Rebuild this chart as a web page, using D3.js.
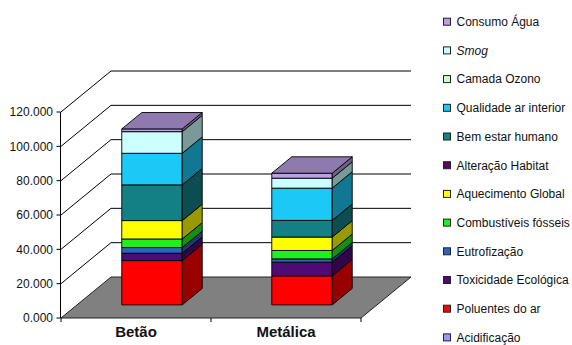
<!DOCTYPE html>
<html>
<head>
<meta charset="utf-8">
<script src="https://cdn.jsdelivr.net/npm/d3@7/dist/d3.min.js"></script>
<style>
  html, body { margin: 0; padding: 0; background: #fff; }
  svg { display: block; font-family: "Liberation Sans", Arial, sans-serif; }
</style>
</head>
<body>
<svg id="chart" width="572" height="345"></svg>
<script>
// Categories (building structure types)
const categories = ["Betão", "Metálica"];

// Impact series, listed from the bottom of the stack to the top
const seriesNames = [
  "Acidificação", "Poluentes do ar", "Toxicidade Ecológica", "Eutrofização",
  "Combustíveis fósseis", "Aquecimento Global", "Alteração Habitat",
  "Bem estar humano", "Qualidade ar interior", "Camada Ozono", "Smog", "Consumo Água"
];

// Values per series, same order as seriesNames
const betaoValues    = [0, 25.8, 4.3, 3.3, 5.0, 10.7, 0, 20.8, 18.4, 0, 12.6, 1.6];
const metalicaValues = [0, 16.9, 8.0, 1.9, 4.9, 7.8, 0, 9.7, 18.8, 0, 5.8, 2.9];

const seriesColors = [
  "#9999ff", "#ff0000", "#500a78", "#3063b8",
  "#1ef01e", "#ffff00", "#660066",
  "#138086", "#1cc8f5", "#ccffcc", "#ccffff", "#bca0e6"
];

const yTicks = [0, 20, 40, 60, 80, 100, 120];

// ---- layout ----
const svg = d3.select("#chart");
const x0 = 61, x1 = 361;          // front edge of the floor
const depthX = 50, depthY = -41;  // oblique depth of the plot box
const backRight = x1 + depthX;
const barFront = 0.32, barBack = 0.72; // bar placement within the depth

const y = d3.scaleLinear().domain([0, 120]).range([318, 112]);
const x = d3.scaleBand().domain(categories).range([x0, x1])
  .paddingInner(0.597).paddingOuter(0.2985);
const xCat = d3.scaleBand().domain(categories).range([x0, x1]);

const shade = (c, k) => {
  const r = d3.rgb(c);
  return d3.rgb(r.r * k, r.g * k, r.b * k).formatHex();
};

// ---- back wall gridlines ----
const grid = svg.append("g").attr("stroke", "#000").attr("stroke-width", 1).attr("fill", "none");
yTicks.filter(t => t > 0).forEach(t => {
  const yy = y(t);
  grid.append("path")
    .attr("d", `M${x0},${yy}L${x0 + depthX},${yy + depthY}L${backRight},${yy + depthY}`);
});

// ---- floor ----
svg.append("path")
  .attr("d", `M${x0},${y(0)}L${x1},${y(0)}L${x1 + depthX},${y(0) + depthY}L${x0 + depthX},${y(0) + depthY}Z`)
  .attr("fill", "#808080").attr("stroke", "#222").attr("stroke-width", 1);

// ---- stacked 3D columns ----
const rows = categories.map((c, i) => {
  const row = { cat: c };
  const vals = i === 0 ? betaoValues : metalicaValues;
  seriesNames.forEach((s, j) => row[s] = vals[j]);
  return row;
});
const stacked = d3.stack().keys(seriesNames)(rows);

const fdx = barFront * depthX, fdy = barFront * depthY;
const bdx = (barBack - barFront) * depthX, bdy = (barBack - barFront) * depthY;

categories.forEach((cat, ci) => {
  const g = svg.append("g").attr("stroke", "#000").attr("stroke-width", 0.9).attr("stroke-linejoin", "round");
  const xl = x(cat) + fdx, xr = xl + x.bandwidth();
  let topSeg = null;
  stacked.forEach((layer, si) => {
    const [v0, v1] = layer[ci];
    if (v1 - v0 <= 0) return;
    const yb = y(v0) + fdy, yt = y(v1) + fdy;
    const col = seriesColors[si];
    g.append("rect").attr("x", xl).attr("y", yt).attr("width", xr - xl).attr("height", yb - yt)
      .attr("fill", col);
    g.append("path")
      .attr("d", `M${xr},${yb}L${xr + bdx},${yb + bdy}L${xr + bdx},${yt + bdy}L${xr},${yt}Z`)
      .attr("fill", shade(col, 0.6));
    topSeg = { yt, col };
  });
  if (topSeg) {
    const { yt, col } = topSeg;
    g.append("path")
      .attr("d", `M${xl},${yt}L${xr},${yt}L${xr + bdx},${yt + bdy}L${xl + bdx},${yt + bdy}Z`)
      .attr("fill", shade(col, 0.76));
  }
});

// ---- value axis ----
const axisG = svg.append("g").attr("stroke", "#000").attr("stroke-width", 1);
axisG.append("line").attr("x1", x0 - 0.5).attr("x2", x0 - 0.5).attr("y1", y(0)).attr("y2", y(120));
yTicks.forEach(t => {
  axisG.append("line").attr("x1", x0 - 4.5).attr("x2", x0 - 0.5).attr("y1", y(t)).attr("y2", y(t));
});
svg.append("g").selectAll("text").data(yTicks).join("text")
  .attr("x", 53).attr("y", d => y(d)).attr("dy", "0.36em")
  .attr("text-anchor", "end").attr("font-size", 12).attr("fill", "#111")
  .text(d => d3.format(".3f")(d));

// ---- category axis ----
const catTicks = [x0, ...categories.slice(1).map(c => xCat(c)), x1];
catTicks.forEach(tx => {
  axisG.append("line").attr("x1", tx).attr("x2", tx).attr("y1", y(0)).attr("y2", y(0) + 4);
});
svg.append("g").selectAll("text").data(categories).join("text")
  .attr("x", d => xCat(d) + xCat.bandwidth() / 2).attr("y", 337)
  .attr("text-anchor", "middle").attr("font-size", 15).attr("font-weight", "bold").attr("fill", "#111")
  .text(d => d);

// ---- legend (top of stack listed first) ----
const legendItems = seriesNames.map((s, i) => ({ name: s, color: seriesColors[i] })).reverse();
const lg = svg.append("g");
legendItems.forEach((d, i) => {
  const cy = 21.7 + i * 28.7;
  lg.append("rect").attr("x", 443.5).attr("y", cy - 3.5).attr("width", 7).attr("height", 7)
    .attr("fill", d.color).attr("stroke", "#222").attr("stroke-width", 1);
  lg.append("text").attr("x", 456.5).attr("y", cy).attr("dy", "0.36em")
    .attr("font-size", 12).attr("fill", "#111")
    .attr("font-style", d.name === "Smog" ? "italic" : "normal")
    .text(d.name);
});
</script>
</body>
</html>
